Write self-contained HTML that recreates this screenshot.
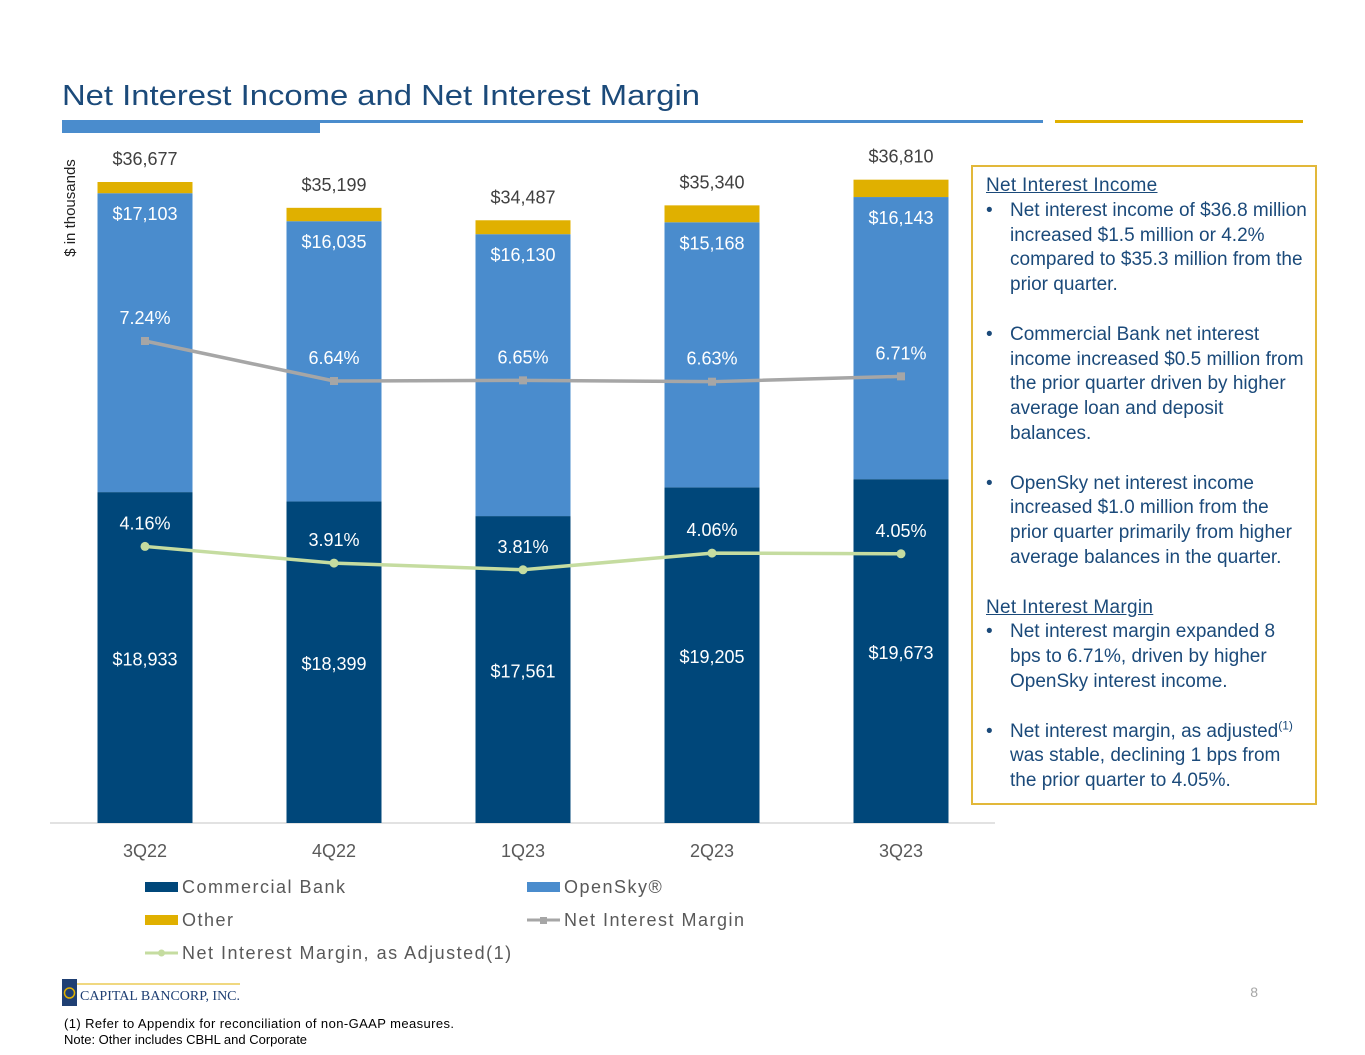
<!DOCTYPE html>
<html><head><meta charset="utf-8"><style>
body{margin:0;width:1365px;height:1055px;background:#fff;overflow:hidden;font-family:"Liberation Sans",sans-serif;position:relative}
#box{position:absolute;left:971px;top:165px;width:346px;height:640px;border:2px solid #e2b83a;box-sizing:border-box;padding:7px 0 0 13px;color:#1b4a7a;font-size:19px;line-height:24.8px;white-space:nowrap}
#box .h{text-decoration:underline;letter-spacing:0.3px}
#box .b{display:flex}
#box .b span:first-child{width:24px;flex:none}
#box .gap{height:24.8px}
</style></head><body>
<svg id="chart" width="1365" height="1055" style="position:absolute;left:0;top:0" font-family="Liberation Sans, sans-serif">
<text x="62" y="105" font-size="29" fill="#1b4a7a" textLength="638" lengthAdjust="spacingAndGlyphs">Net Interest Income and Net Interest Margin</text>
<rect x="62" y="120" width="258" height="13" fill="#4a8ccd"/>
<rect x="320" y="120" width="723" height="3" fill="#4a8ccd"/>
<rect x="1055" y="120" width="248" height="3" fill="#e0b000"/>
<text transform="translate(75,208) rotate(-90)" text-anchor="middle" font-size="15" fill="#222">$ in thousands</text>
<line x1="50" y1="823" x2="995" y2="823" stroke="#d9d9d9" stroke-width="1.5"/>
<g id="bars"></g><g id="lines"></g><g id="labels"></g>
<g font-size="18" fill="#595959" letter-spacing="1.5">
<rect x="145" y="882" width="33" height="10" fill="#00477a"/>
<text x="182" y="893">Commercial Bank</text>
<rect x="527" y="882" width="33" height="10" fill="#4a8ccd"/>
<text x="564" y="893">OpenSky®</text>
<rect x="145" y="915" width="33" height="10" fill="#e0b000"/>
<text x="182" y="926">Other</text>
<line x1="527" y1="920" x2="560" y2="920" stroke="#a6a6a6" stroke-width="3"/><rect x="540" y="917" width="7" height="7" fill="#a6a6a6"/>
<text x="564" y="926">Net Interest Margin</text>
<line x1="145" y1="953" x2="178" y2="953" stroke="#c5dca0" stroke-width="3"/><circle cx="161.5" cy="953" r="3.5" fill="#c5dca0"/>
<text x="182" y="959">Net Interest Margin, as Adjusted(1)</text>
</g>
<g>
<rect x="62" y="979" width="15" height="27" fill="#1f3f73"/>
<circle cx="69.5" cy="993" r="5" fill="none" stroke="#e0b000" stroke-width="1.5"/>
<line x1="77" y1="984" x2="240" y2="984" stroke="#e0b000" stroke-width="1"/>
<text x="80" y="1000" font-family="Liberation Serif, serif" font-size="14" fill="#1f3f73" textLength="160">CAPITAL BANCORP, INC.</text>
</g>
<text x="1258" y="997" font-size="14" fill="#a6a6a6" text-anchor="end">8</text>
<text x="64" y="1028" font-size="13" fill="#000" textLength="390">(1) Refer to Appendix for reconciliation of non-GAAP measures.</text>
<text x="64" y="1044" font-size="13" fill="#000">Note: Other includes CBHL and Corporate</text>
</svg>
<div id="box">
<div class="h">Net Interest Income</div>
<div class="b"><span>•</span><span>Net interest income of $36.8 million<br>increased $1.5 million or 4.2%<br>compared to $35.3 million from the<br>prior quarter.</span></div>
<div class="gap"></div>
<div class="b"><span>•</span><span>Commercial Bank net interest<br>income increased $0.5 million from<br>the prior quarter driven by higher<br>average loan and deposit<br>balances.</span></div>
<div class="gap"></div>
<div class="b"><span>•</span><span>OpenSky net interest income<br>increased $1.0 million from the<br>prior quarter primarily from higher<br>average balances in the quarter.</span></div>
<div class="gap"></div>
<div class="h">Net Interest Margin</div>
<div class="b"><span>•</span><span>Net interest margin expanded 8<br>bps to 6.71%, driven by higher<br>OpenSky interest income.</span></div>
<div class="gap"></div>
<div class="b"><span>•</span><span>Net interest margin, as adjusted<sup style="font-size:12px;line-height:0">(1)</sup><br>was stable, declining 1 bps from<br>the prior quarter to 4.05%.</span></div>
</div>
<script>
const categories=["3Q22","4Q22","1Q23","2Q23","3Q23"];
const commercial=[18933,18399,17561,19205,19673];
const opensky=[17103,16035,16130,15168,16143];
const other=[641,765,796,967,994];
const totals=[36677,35199,34487,35340,36810];
const nim=[7.24,6.64,6.65,6.63,6.71];
const nimAdj=[4.16,3.91,3.81,4.06,4.05];
const NS="http://www.w3.org/2000/svg";
const x=i=>145+i*189;
const yv=v=>823-v*0.017477;
const yp=p=>341-(p-7.24)*66.7;
function mk(t,a,p){const e=document.createElementNS(NS,t);for(const k in a)e.setAttribute(k,a[k]);p.appendChild(e);return e;}
const B=document.getElementById('bars'),L=document.getElementById('lines'),T=document.getElementById('labels');
function txt(s,xx,yy,fill,name){const e=mk('text',{x:xx,y:yy,'text-anchor':'middle','font-size':18,fill:fill},T);e.textContent=s;

}
const fmt=v=>'$'+v.toLocaleString('en-US');
categories.forEach((c,i)=>{
 const bw=95,x0=x(i)-bw/2;
 const y1=yv(commercial[i]),y2=yv(commercial[i]+opensky[i]),y3=yv(commercial[i]+opensky[i]+other[i]);
 let r=mk('rect',{x:x0,y:y1,width:bw,height:823-y1,fill:'#00477a'},B);
 
 
 r=mk('rect',{x:x0,y:y2,width:bw,height:y1-y2,fill:'#4a8ccd'},B);
 
 
 r=mk('rect',{x:x0,y:y3,width:bw,height:y2-y3,fill:'#e0b000'},B);
 
 
 txt(fmt(commercial[i]),x(i),(y1+823)/2+8,'#fff','label-commercial-'+c);
 txt(fmt(opensky[i]),x(i),y2+27,'#fff','label-opensky-'+c);
 txt(fmt(totals[i]),x(i),yv(totals[i])-17,'#404040','label-total-'+c);
 txt(c,x(i),857,'#595959','x-tick-'+c);
 txt(nim[i].toFixed(2)+'%',x(i),yp(nim[i])-17,'#fff','label-nim-'+c);
 txt(nimAdj[i].toFixed(2)+'%',x(i),yp(nimAdj[i])-17,'#fff','label-nim-adj-'+c);
});
let p=mk('polyline',{points:nim.map((v,i)=>x(i)+','+yp(v)).join(' '),fill:'none',stroke:'#a6a6a6','stroke-width':3.5},L);


nim.forEach((v,i)=>{const m=mk('rect',{x:x(i)-4,y:yp(v)-4,width:8,height:8,fill:'#a6a6a6'},L);

});
p=mk('polyline',{points:nimAdj.map((v,i)=>x(i)+','+yp(v)).join(' '),fill:'none',stroke:'#c5dca0','stroke-width':3.5},L);


nimAdj.forEach((v,i)=>{const m=mk('circle',{cx:x(i),cy:yp(v),r:4.5,fill:'#c5dca0'},L);

});
</script>
</body></html>
